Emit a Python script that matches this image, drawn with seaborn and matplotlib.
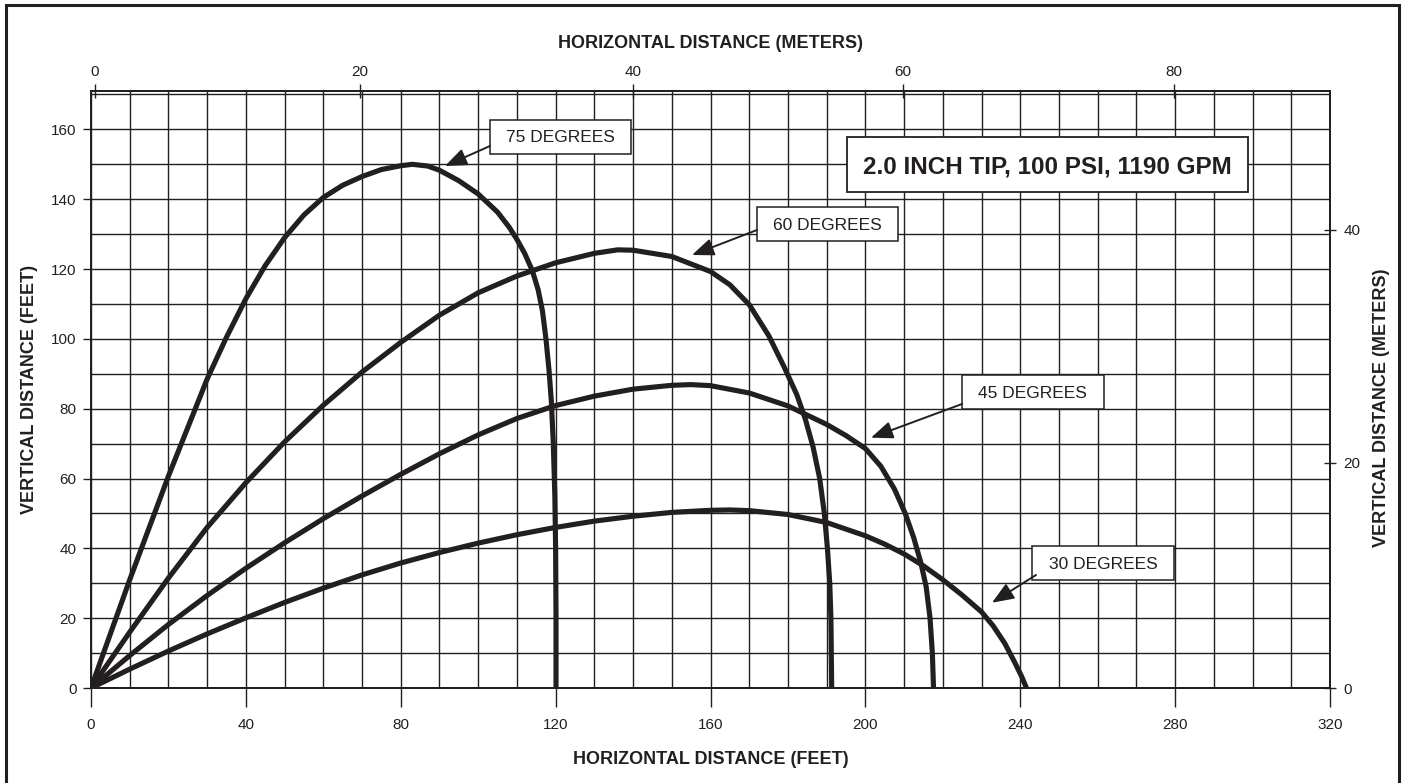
import matplotlib
matplotlib.use("Agg")
import numpy as np
import pandas as pd
import matplotlib.pyplot as plt
import seaborn as sns
from matplotlib.patches import Rectangle

# ---------------- data ----------------
angles = ["75 DEGREES", "60 DEGREES", "45 DEGREES", "30 DEGREES"]

x_75 = [0, 10, 20, 30, 35, 40, 45, 50, 55, 60, 65, 70, 75, 80, 83, 87, 90, 95, 100, 105, 108, 110,
        112, 114, 115.5, 116.6, 117.5, 118.3, 118.9, 119.4, 119.8, 120.0, 120.1, 120.1]
y_75 = [0, 31, 60.7, 88.5, 100.5, 111.5, 121, 129, 135.5, 140.5, 144, 146.5, 148.5, 149.6, 150, 149.5,
        148.3, 145.3, 141.5, 136.3, 132, 128.5, 124.5, 119.5, 114, 108, 100, 91, 82, 70, 55, 40, 20, 0]

x_60 = [0, 10, 20, 30, 40, 50, 60, 70, 80, 90, 100, 110, 120, 130, 136, 140, 150, 160, 165, 170,
        175, 179, 182.3, 184.5, 186.5, 188.2, 189.4, 190.2, 190.8, 191.1, 191.3]
y_60 = [0, 16, 31.5, 46, 58.8, 70.5, 81, 90.5, 99, 106.8, 113.2, 118, 121.8, 124.5, 125.5, 125.4,
        123.6, 119.3, 115.5, 109.8, 101, 92, 84, 77, 69, 60, 50, 40, 30, 20, 0]

x_45 = [0, 10, 20, 30, 40, 50, 60, 70, 80, 90, 100, 110, 120, 130, 140, 150, 155, 160, 170, 180,
        190, 195, 200, 204, 207.5, 210.3, 212.5, 214.3, 215.7, 216.7, 217.3, 217.6]
y_45 = [0, 9.3, 18.2, 26.5, 34.3, 41.6, 48.5, 55, 61.2, 67.1, 72.5, 77.2, 80.9, 83.6, 85.6, 86.7,
        86.9, 86.6, 84.5, 80.8, 75.5, 72.3, 68.6, 63.5, 57, 50, 43, 36, 29, 20, 10, 0]

x_30 = [0, 10, 20, 30, 40, 50, 60, 70, 80, 90, 100, 110, 120, 130, 140, 150, 160, 165, 170, 180,
        190, 200, 205, 210, 215, 220, 225, 230, 233, 236, 238.5, 240.4, 241.6]
y_30 = [0, 5.4, 10.6, 15.5, 20.1, 24.5, 28.6, 32.4, 35.8, 38.8, 41.5, 43.9, 46, 47.8, 49.2, 50.3,
        50.9, 51, 50.8, 49.7, 47.4, 43.6, 41.2, 38.4, 35, 31, 26.6, 21.8, 17.8, 12.8, 7.5, 3.2, 0]

feet_ticks = [0, 40, 80, 120, 160, 200, 240, 280, 320]
feet_tick_labels = ["0", "40", "80", "120", "160", "200", "240", "280", "320"]
vert_ticks = [0, 20, 40, 60, 80, 100, 120, 140, 160]
vert_tick_labels = ["0", "20", "40", "60", "80", "100", "120", "140", "160"]
meter_top_labels = ["0", "20", "40", "60", "80"]
meter_top_pos_ft = [1, 69.5, 140, 209.7, 279.7]
meter_right_labels = ["0", "20", "40"]
meter_right_pos_ft = [0, 64.5, 131.2]

title_text = "2.0 INCH TIP, 100 PSI, 1190 GPM"
xlabel_bottom = "HORIZONTAL DISTANCE (FEET)"
xlabel_top = "HORIZONTAL DISTANCE (METERS)"
ylabel_left = "VERTICAL DISTANCE (FEET)"
ylabel_right = "VERTICAL DISTANCE (METERS)"

# ---------------- style / layout ----------------
INK = "#231f20"
W, H = 1405, 783
L, R, T, B = 91, 1330, 91, 688
XMAX, YMAX = 320, 171

sns.set_theme(style="ticks")
NARROW = ["Liberation Sans Narrow", "Liberation Sans", "DejaVu Sans"]
BOLD = ["Liberation Sans", "DejaVu Sans"]
plt.rcParams["font.family"] = NARROW

fig = plt.figure(figsize=(W / 100, H / 100), dpi=100)
ax = fig.add_axes([L / W, 1 - B / H, (R - L) / W, (B - T) / H])

xs_list = [x_75, x_60, x_45, x_30]
ys_list = [y_75, y_60, y_45, y_30]
df = pd.concat(
    [pd.DataFrame({"x": xs, "y": ys, "angle": a}) for a, xs, ys in zip(angles, xs_list, ys_list)],
    ignore_index=True,
)
sns.lineplot(data=df, x="x", y="y", hue="angle", palette={a: INK for a in angles},
             estimator=None, sort=False, legend=False, linewidth=3.7, ax=ax,
             zorder=3, solid_capstyle="butt", solid_joinstyle="round")

ax.set_xlim(0, XMAX)
ax.set_ylim(0, YMAX)
ax.set_xticks(feet_ticks)
ax.set_xticklabels(feet_tick_labels)
ax.set_yticks(vert_ticks)
ax.set_yticklabels(vert_tick_labels)
ax.set_xticks(np.arange(0, XMAX + 1, 10), minor=True)
ax.set_yticks(np.arange(0, YMAX, 10), minor=True)
ax.grid(True, which="both", color=INK, linewidth=1.0)
ax.set_axisbelow(True)
ax.tick_params(which="minor", length=0)
ax.tick_params(axis="x", which="major", bottom=True, direction="out", length=13.5, width=1,
               pad=8, labelsize=11, colors=INK)
ax.tick_params(axis="y", which="major", left=True, direction="out", length=5.5, width=1,
               pad=5, labelsize=11, colors=INK)
for s in ax.spines.values():
    s.set_visible(True)
    s.set_color(INK)
    s.set_linewidth(1.2)
ax.set_xlabel(xlabel_bottom, fontsize=13, fontweight="bold", family=BOLD, color=INK)
ax.xaxis.label.set_va("center")
ax.xaxis.set_label_coords(0.5, (B - 760) / (B - T))
ax.set_ylabel(ylabel_left, fontsize=13, fontweight="bold", family=BOLD, color=INK)
ax.yaxis.label.set_va("center")
ax.yaxis.set_label_coords((30 - L) / (R - L), 0.5)

# top (meters) axis
axt = ax.twiny()
axt.set_xlim(0, XMAX)
axt.set_xticks(meter_top_pos_ft)
axt.set_xticklabels(meter_top_labels)
axt.tick_params(axis="x", top=True, bottom=False, labeltop=True, labelbottom=False,
                direction="inout", length=10, width=1, pad=4, labelsize=11, colors=INK)
axt.set_xlabel(xlabel_top, fontsize=13, fontweight="bold", family=BOLD, color=INK)
axt.xaxis.label.set_va("center")
axt.xaxis.set_label_coords(0.5, (B - 43) / (B - T))

# right (meters) axis
axr = ax.twinx()
axr.set_ylim(0, YMAX)
axr.set_yticks(meter_right_pos_ft)
axr.set_yticklabels(meter_right_labels)
axr.tick_params(axis="y", right=True, left=False, labelright=True, labelleft=False,
                direction="inout", length=9, width=1, pad=5, labelsize=11, colors=INK)
axr.set_ylabel(ylabel_right, fontsize=13, fontweight="bold", family=BOLD, color=INK)
axr.yaxis.label.set_va("center")
axr.yaxis.set_label_coords((1381 - L) / (R - L), 0.47)
for a in (axt, axr):
    for s in a.spines.values():
        s.set_color(INK)
        s.set_linewidth(1.2)
    a.grid(False)

# ---------------- annotations ----------------
fx = XMAX / (R - L)   # feet per pixel (x)
fy = YMAX / (B - T)   # feet per pixel (y)

def px(xp, yp):
    return ((xp - L) * fx, (B - yp) * fy)

label_boxes = {
    "75 DEGREES": ((560.5, 136.5), (490, 146), (445, 166)),
    "60 DEGREES": ((827.5, 223.7), (757, 230), (692, 255)),
    "45 DEGREES": ((1032.8, 392.2), (962, 404), (871, 437.7)),
    "30 DEGREES": ((1103.2, 563.2), (1036, 575), (992, 602.7)),
}
bw, bh = 141.6, 34
for lab, (c, tail, head) in label_boxes.items():
    cx, cy = px(*c)
    ax.add_patch(Rectangle((cx - bw / 2 * fx, cy - bh / 2 * fy), bw * fx, bh * fy,
                           facecolor="white", edgecolor=INK, linewidth=1.1, zorder=5))
    ax.text(cx, cy, lab, ha="center", va="center_baseline", fontsize=12.5, color=INK, zorder=6)
    ax.annotate("", xy=px(*head), xytext=px(*tail),
                arrowprops=dict(arrowstyle="-|>,head_length=0.95,head_width=0.38", color=INK,
                                lw=1.4, mutation_scale=14, shrinkA=0, shrinkB=0),
                zorder=6)

tcx, tcy = px(1047.2, 164.2)
tw, th = 401, 55
ax.add_patch(Rectangle((tcx - tw / 2 * fx, tcy - th / 2 * fy), tw * fx, th * fy,
                       facecolor="white", edgecolor=INK, linewidth=1.3, zorder=5))
ax.text(tcx, tcy, title_text, ha="center", va="center_baseline", fontsize=17.5,
        fontweight="bold", color=INK, zorder=6)

# outer frame
fig.add_artist(Rectangle((6.5 / W, -0.05), (1399 - 6.5) / W, 1.05 - 5 / H,
                         transform=fig.transFigure, fill=False, edgecolor=INK, linewidth=2.2))

fig.savefig("out.png", dpi=100)
